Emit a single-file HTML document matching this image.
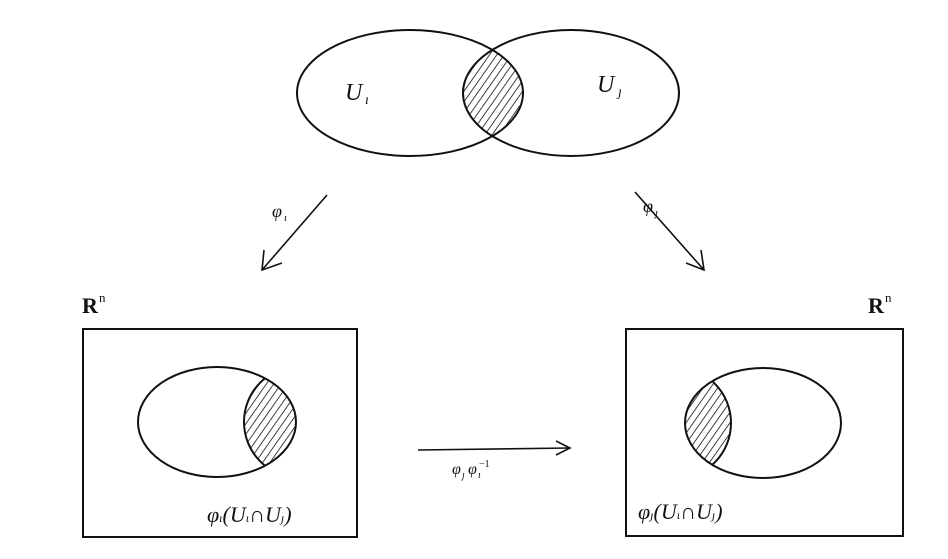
<!DOCTYPE html>
<html><head><style>
html,body{margin:0;padding:0;background:#fff;}
svg{display:block;}
text{font-family:"Liberation Serif",serif;fill:#111;}
</style></head><body>
<svg width="948" height="559" viewBox="0 0 948 559" xmlns="http://www.w3.org/2000/svg">
<defs>
<pattern id="h" patternUnits="userSpaceOnUse" width="6" height="6" patternTransform="rotate(35)">
<line x1="0" y1="0" x2="0" y2="6" stroke="#111" stroke-width="1.6"/>
</pattern>
<clipPath id="cl"><ellipse cx="410" cy="93" rx="113" ry="63"/></clipPath>
<clipPath id="cb1"><ellipse cx="217" cy="422" rx="79" ry="55"/></clipPath>
<clipPath id="cb2"><ellipse cx="763" cy="423" rx="78" ry="55"/></clipPath>
</defs>
<g fill="none" stroke="#111" stroke-width="2">
<ellipse cx="571" cy="93" rx="108" ry="63" fill="url(#h)" clip-path="url(#cl)" stroke="none"/>
<ellipse cx="410" cy="93" rx="113" ry="63"/>
<ellipse cx="571" cy="93" rx="108" ry="63"/>
<rect x="83" y="329" width="274" height="208"/>
<circle cx="300" cy="422" r="56" fill="url(#h)" clip-path="url(#cb1)"/>
<ellipse cx="217" cy="422" rx="79" ry="55"/>
<rect x="626" y="329" width="277" height="207"/>
<circle cx="675" cy="423" r="56" fill="url(#h)" clip-path="url(#cb2)"/>
<ellipse cx="763" cy="423" rx="78" ry="55"/>
<g stroke-width="1.6">
<line x1="327" y1="195" x2="262" y2="270"/>
<polyline points="264,250 262,270 282,263"/>
<line x1="635" y1="192" x2="704" y2="270"/>
<polyline points="686,263 704,270 701,250"/>
<line x1="418" y1="450" x2="570" y2="448"/>
<polyline points="556,441 570,448 556,455"/>
</g>
</g>
<text x="345" y="100" font-size="24" font-style="italic">U</text><text x="365" y="104" font-size="14" font-style="italic">ı</text>
<text x="597" y="92" font-size="24" font-style="italic">U</text><text x="618" y="96" font-size="14" font-style="italic">ȷ</text>
<text x="272" y="217" font-size="18" font-style="italic">φ</text><text x="284" y="221" font-size="11" font-style="italic">ι</text>
<text x="643" y="212" font-size="18" font-style="italic">φ</text><text x="655" y="216" font-size="11" font-style="italic">ȷ</text>
<text x="452" y="474" font-size="16" font-style="italic">φ</text><text x="462" y="478" font-size="10" font-style="italic">ȷ</text>
<text x="468" y="474" font-size="16" font-style="italic">φ</text><text x="478" y="478" font-size="10" font-style="italic">ι</text><text x="479" y="467" font-size="10">−1</text>
<text x="82" y="313" font-size="22" font-weight="bold">R</text><text x="99" y="302" font-size="13">n</text>
<text x="868" y="313" font-size="22" font-weight="bold">R</text><text x="885" y="302" font-size="13">n</text>
<text x="207" y="522" font-size="22" font-style="italic">φ<tspan font-size="12">ι</tspan>(U<tspan font-size="12">ι</tspan>∩U<tspan font-size="12">ȷ</tspan>)</text>
<text x="638" y="519" font-size="22" font-style="italic">φ<tspan font-size="12">ȷ</tspan>(U<tspan font-size="12">ι</tspan>∩U<tspan font-size="12">ȷ</tspan>)</text>
</svg>
</body></html>
